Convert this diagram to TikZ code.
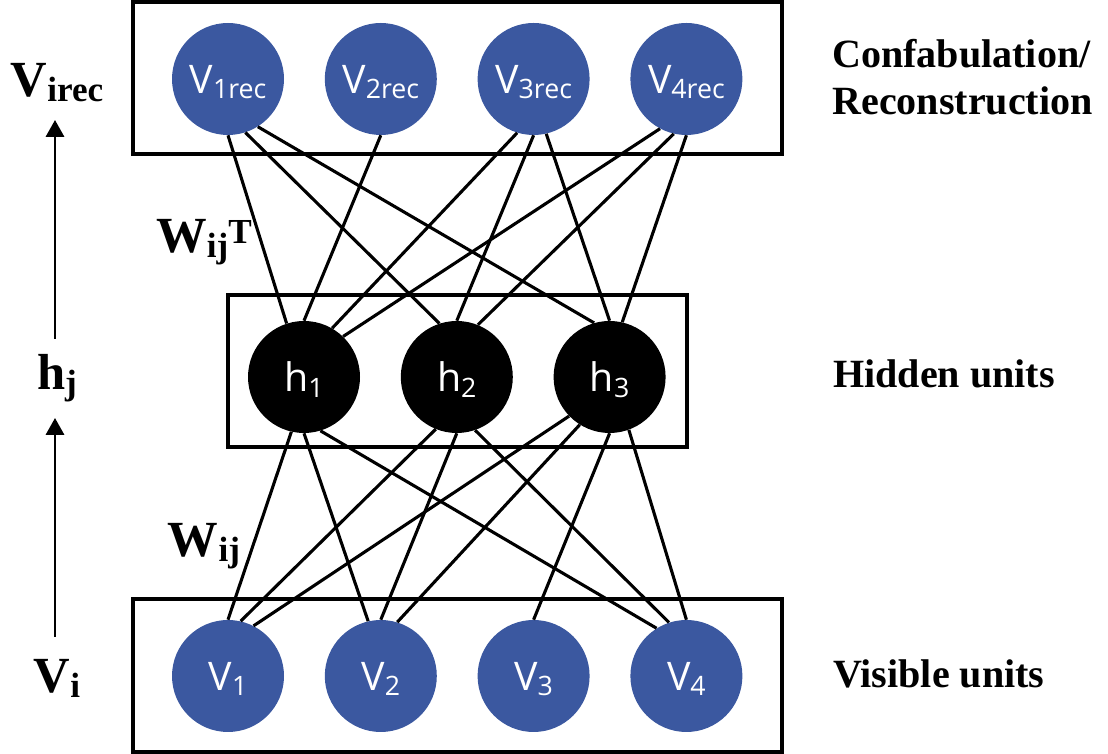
\documentclass[tikz,border=0pt]{standalone}
\usepackage{fontspec}
\setmainfont{Liberation Serif}
\newfontfamily\unitfont{Open Sans}
\usetikzlibrary{arrows.meta, positioning}
\definecolor{visblue}{HTML}{3B58A0}

% unit names: big letter, small lowered index (kept out of the box height)
\newcommand{\unitlbl}[2]{#1{\fontsize{19}{19}\selectfont\raisebox{-4pt}[0pt][0pt]{#2}}}
% side names: bold serif letter with index
\newcommand{\sidelbl}[2]{#1{\fontsize{25}{25}\selectfont\raisebox{-3pt}[0pt][0pt]{#2}}}

\begin{document}
\begin{tikzpicture}[
  unit/.style={circle, minimum size=2.8cm, inner sep=0pt, text=white,
    font=\unitfont\fontsize{28}{28}\selectfont},
  visunit/.style={unit, fill=visblue},
  hidunit/.style={unit, fill=black},
  layerbox/.style={draw, line width=2.4pt},
  wire/.style={line width=2.2pt},
  sidelabel/.style={font=\bfseries\fontsize{36}{36}\selectfont, anchor=base, inner sep=0pt},
  layerlabel/.style={font=\bfseries\fontsize{28.5}{28.5}\selectfont, anchor=base west, inner sep=0pt},
  flow/.style={line width=2pt, -{Triangle[length=4.2mm, width=4.5mm]}},
]

\useasboundingbox (0,0) rectangle (27.7,18.85);

% Layer boxes
\draw[layerbox] (3.325,15.0) rectangle (19.55,18.8);
\draw[layerbox] (5.7,7.675) rectangle (17.175,11.475);
\draw[layerbox] (3.325,0.05) rectangle (19.55,3.875);

% Units
\def\ux{3.82}
\foreach \i in {1,...,4} {
  \node[visunit] (r\i) at ({5.7+(\i-1)*\ux}, 16.875) {\unitlbl{V}{\i rec}};
  \node[visunit] (v\i) at ({5.7+(\i-1)*\ux}, 1.95) {\unitlbl{V}{\i}};
}
\foreach \j in {1,2,3}
  \node[hidunit] (h\j) at ({7.6+(\j-1)*\ux}, 9.425) {\unitlbl{h}{\j}};

% Weights, reconstruction side
\foreach \a/\aa/\b/\ba in {r1/-90/h1/108, r1/-72/h2/108, r1/-58/h3/106,
                          r2/-90/h1/90,
                          r3/-107/h1/60, r3/-90/h2/90, r3/-77/h3/90,
                          r4/-118/h1/46, r4/-103/h2/68, r4/-90/h3/77}
  \draw[wire] (\a.\aa) -- (\b.\ba);

% Weights, visible side
\foreach \a/\aa/\b/\ba in {v1/90/h1/-103, v1/77/h2/-112, v1/63/h3/-136,
                          v2/103/h1/-90, v2/90/h2/-90, v2/73/h3/-122,
                          v3/90/h3/-90,
                          v4/122/h1/-73, v4/108/h2/-71, v4/90/h3/-70}
  \draw[wire] (\a.\aa) -- (\b.\ba);

% Left column
\node[sidelabel] (virec) at (1.425,16.425) {\sidelbl{V}{irec}};
\node[sidelabel] (hj) at (1.425,9.1) {\sidelbl{h}{j}};
\node[sidelabel] (vi) at (1.425,1.525) {\sidelbl{V}{i}};

\coordinate (vbase) at (1.375,2.925);
\coordinate (htip) at (1.375,8.4);
\coordinate (hbase) at (1.375,10.375);
\coordinate (rtip) at (1.375,15.85);
\draw[flow] (vbase) -- (htip);
\draw[flow] (hbase) -- (rtip);

% Weight names
\node[sidelabel] (wt) at (5.1,12.525)
  {\sidelbl{W}{ij}{\fontsize{25}{25}\selectfont\raisebox{7pt}{T}}};
\node[sidelabel] (w) at (5.1,4.925) {\sidelbl{W}{ij}};

% Layer names
\node[layerlabel] (confab) at (20.8,17.15) {Confabulation/};
\node[layerlabel] (recon) at (20.8,15.975) {Reconstruction};
\node[layerlabel] (hidden) at (20.825,9.15) {Hidden units};
\node[layerlabel] (visible) at (20.825,1.65) {Visible units};

\end{tikzpicture}
\end{document}
